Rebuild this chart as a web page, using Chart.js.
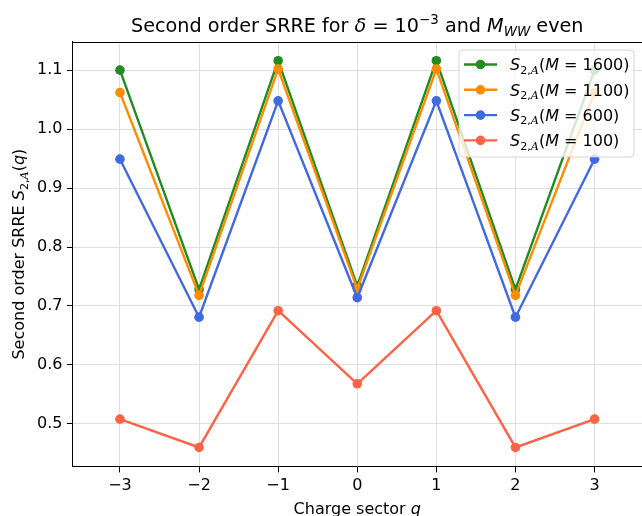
<!DOCTYPE html>
<html>
<head>
<meta charset="utf-8">
<script src="https://cdn.jsdelivr.net/npm/chart.js@4.4.1/dist/chart.umd.min.js"></script>
<style>
  html, body { margin: 0; padding: 0; background: #fff; overflow: hidden; }
  #wrap { width: 642px; height: 516px; position: relative; }
</style>
</head>
<body>
<div id="wrap"><canvas id="c" width="642" height="516"></canvas></div>
<script>
// Charge sectors q and the second order SRRE for each subsystem size M
const chargeSectors = [-3, -2, -1, 0, 1, 2, 3];
const srreM1600 = [1.100, 0.728, 1.116, 0.734, 1.116, 0.728, 1.100];
const srreM1100 = [1.062, 0.718, 1.102, 0.729, 1.102, 0.718, 1.062];
const srreM600  = [0.949, 0.681, 1.048, 0.714, 1.048, 0.681, 0.949];
const srreM100  = [0.508, 0.460, 0.692, 0.568, 0.692, 0.460, 0.508];

const seriesSizes  = ['1600', '1100', '600', '100'];
const seriesValues = [srreM1600, srreM1100, srreM600, srreM100];
const seriesColors = ['#228b22', '#ff8c00', '#4169e1', '#ff6347'];

const FONT = '"DejaVu Sans", "Noto Sans", sans-serif';
const CAL_FONT = '"DejaVu Serif", "Liberation Serif", serif';

// Mixed-style text: italic symbols, calligraphic letters, sub- and superscripts
function segFont(seg, size) {
  const s = (seg.sub || seg.sup) ? size * 0.7 : size;
  return (seg.it || seg.cal ? 'italic ' : '') + s + 'px ' + (seg.cal ? CAL_FONT : FONT);
}
function richWidth(ctx, segs, size) {
  let w = 0;
  for (const seg of segs) { ctx.font = segFont(seg, size); w += ctx.measureText(seg.t).width; }
  return w;
}
function drawRich(ctx, segs, x, y, size, align) {
  const w = richWidth(ctx, segs, size);
  let cx = align === 'center' ? x - w / 2 : x;
  ctx.textAlign = 'left';
  ctx.textBaseline = 'alphabetic';
  for (const seg of segs) {
    ctx.font = segFont(seg, size);
    const dy = seg.sub ? size * 0.22 : seg.sup ? -size * 0.42 : 0;
    ctx.fillText(seg.t, cx, y + dy);
    cx += ctx.measureText(seg.t).width;
  }
}

const titleSegs = [
  { t: 'Second order SRRE for ' }, { t: 'δ', it: 1 }, { t: ' = 10' }, { t: '−3', sup: 1 },
  { t: ' and ' }, { t: 'M', it: 1 }, { t: 'WW', it: 1, sub: 1 }, { t: ' even' }
];
const yLabelSegs = [
  { t: 'Second order SRRE ' }, { t: 'S', it: 1 }, { t: '2,', sub: 1 }, { t: 'A', sub: 1, cal: 1 },
  { t: '(' }, { t: 'q', it: 1 }, { t: ')' }
];
const xLabelSegs = [{ t: 'Charge sector ' }, { t: 'q', it: 1 }];
const legendSegs = size => [
  { t: 'S', it: 1 }, { t: '2,', sub: 1 }, { t: 'A', sub: 1, cal: 1 },
  { t: '(' }, { t: 'M', it: 1 }, { t: ' = ' + size + ')' }
];

const decor = {
  id: 'decor',
  beforeDraw(chart) {
    const ctx = chart.ctx;
    ctx.save();
    ctx.fillStyle = '#fff';
    ctx.fillRect(0, 0, chart.width, chart.height);
    ctx.restore();
  },
  afterDraw(chart) {
    const ctx = chart.ctx;
    const a = chart.chartArea;
    ctx.save();
    // top and right spines
    ctx.strokeStyle = '#000';
    ctx.lineWidth = 1;
    ctx.beginPath();
    ctx.moveTo(a.left, Math.round(a.top) + 0.5);
    ctx.lineTo(a.right, Math.round(a.top) + 0.5);
    ctx.moveTo(Math.round(a.right) + 0.5, a.top);
    ctx.lineTo(Math.round(a.right) + 0.5, a.bottom);
    ctx.stroke();

    // title and axis labels
    ctx.fillStyle = '#000';
    const cx = (a.left + a.right) / 2;
    drawRich(ctx, titleSegs, cx, 32, 19.2, 'center');
    drawRich(ctx, xLabelSegs, cx, 514, 16, 'center');
    ctx.save();
    ctx.translate(24, (a.top + a.bottom) / 2);
    ctx.rotate(-Math.PI / 2);
    drawRich(ctx, yLabelSegs, 0, 0, 16, 'center');
    ctx.restore();

    // legend
    const bx = 459, by = 50, bw = 175, bh = 107, r = 4;
    ctx.beginPath();
    ctx.moveTo(bx + r, by);
    ctx.arcTo(bx + bw, by, bx + bw, by + bh, r);
    ctx.arcTo(bx + bw, by + bh, bx, by + bh, r);
    ctx.arcTo(bx, by + bh, bx, by, r);
    ctx.arcTo(bx, by, bx + bw, by, r);
    ctx.closePath();
    ctx.fillStyle = 'rgba(255,255,255,0.8)';
    ctx.fill();
    ctx.strokeStyle = 'rgba(204,204,204,0.8)';
    ctx.lineWidth = 1;
    ctx.stroke();
    seriesSizes.forEach((size, i) => {
      const y = 64.5 + i * 25.3;
      ctx.strokeStyle = seriesColors[i];
      ctx.lineWidth = 2.4;
      ctx.beginPath();
      ctx.moveTo(464, y);
      ctx.lineTo(497, y);
      ctx.stroke();
      ctx.fillStyle = seriesColors[i];
      ctx.beginPath();
      ctx.arc(480.5, y, 4.8, 0, Math.PI * 2);
      ctx.fill();
      ctx.fillStyle = '#000';
      drawRich(ctx, legendSegs(size), 510, y + 5.8, 16, 'left');
    });
    ctx.restore();
  }
};

const fmtMinus = v => (v < 0 ? '\u2212' + Math.abs(v) : String(v));

new Chart(document.getElementById('c'), {
  type: 'line',
  data: {
    datasets: seriesSizes.map((size, i) => ({
      label: 'M = ' + size,
      data: chargeSectors.map((q, k) => ({ x: q, y: seriesValues[i][k] })),
      borderColor: seriesColors[i],
      backgroundColor: seriesColors[i],
      borderWidth: 2.4,
      pointRadius: 4.8,
      pointBorderWidth: 0,
      pointBackgroundColor: seriesColors[i],
      tension: 0,
      fill: false,
      order: seriesSizes.length - i
    }))
  },
  options: {
    responsive: false,
    animation: false,
    devicePixelRatio: 1,
    layout: { autoPadding: false, padding: { top: 41.5, left: 0, right: 0, bottom: 0 } },
    plugins: { legend: { display: false }, tooltip: { enabled: false }, title: { display: false } },
    scales: {
      x: {
        type: 'linear',
        min: -3.6,
        max: 3.6,
        afterFit: s => { s.height = 49.2; },
        ticks: {
          stepSize: 1,
          includeBounds: false,
          color: '#000',
          padding: 4,
          font: { family: FONT, size: 16 },
          callback: v => fmtMinus(v)
        },
        grid: { color: '#dedede', lineWidth: 1, tickLength: 5.6, tickColor: '#000', tickWidth: 1 },
        border: { color: '#000', width: 1 }
      },
      y: {
        type: 'linear',
        min: 0.4272,
        max: 1.1486,
        afterFit: s => { s.width = 72.5; },
        ticks: {
          stepSize: 0.1,
          includeBounds: false,
          color: '#000',
          padding: 4.5,
          font: { family: FONT, size: 16 },
          callback: v => v.toFixed(1)
        },
        grid: { color: '#dedede', lineWidth: 1, tickLength: 5.6, tickColor: '#000', tickWidth: 1 },
        border: { color: '#000', width: 1 }
      }
    }
  },
  plugins: [decor]
});
</script>
</body>
</html>
